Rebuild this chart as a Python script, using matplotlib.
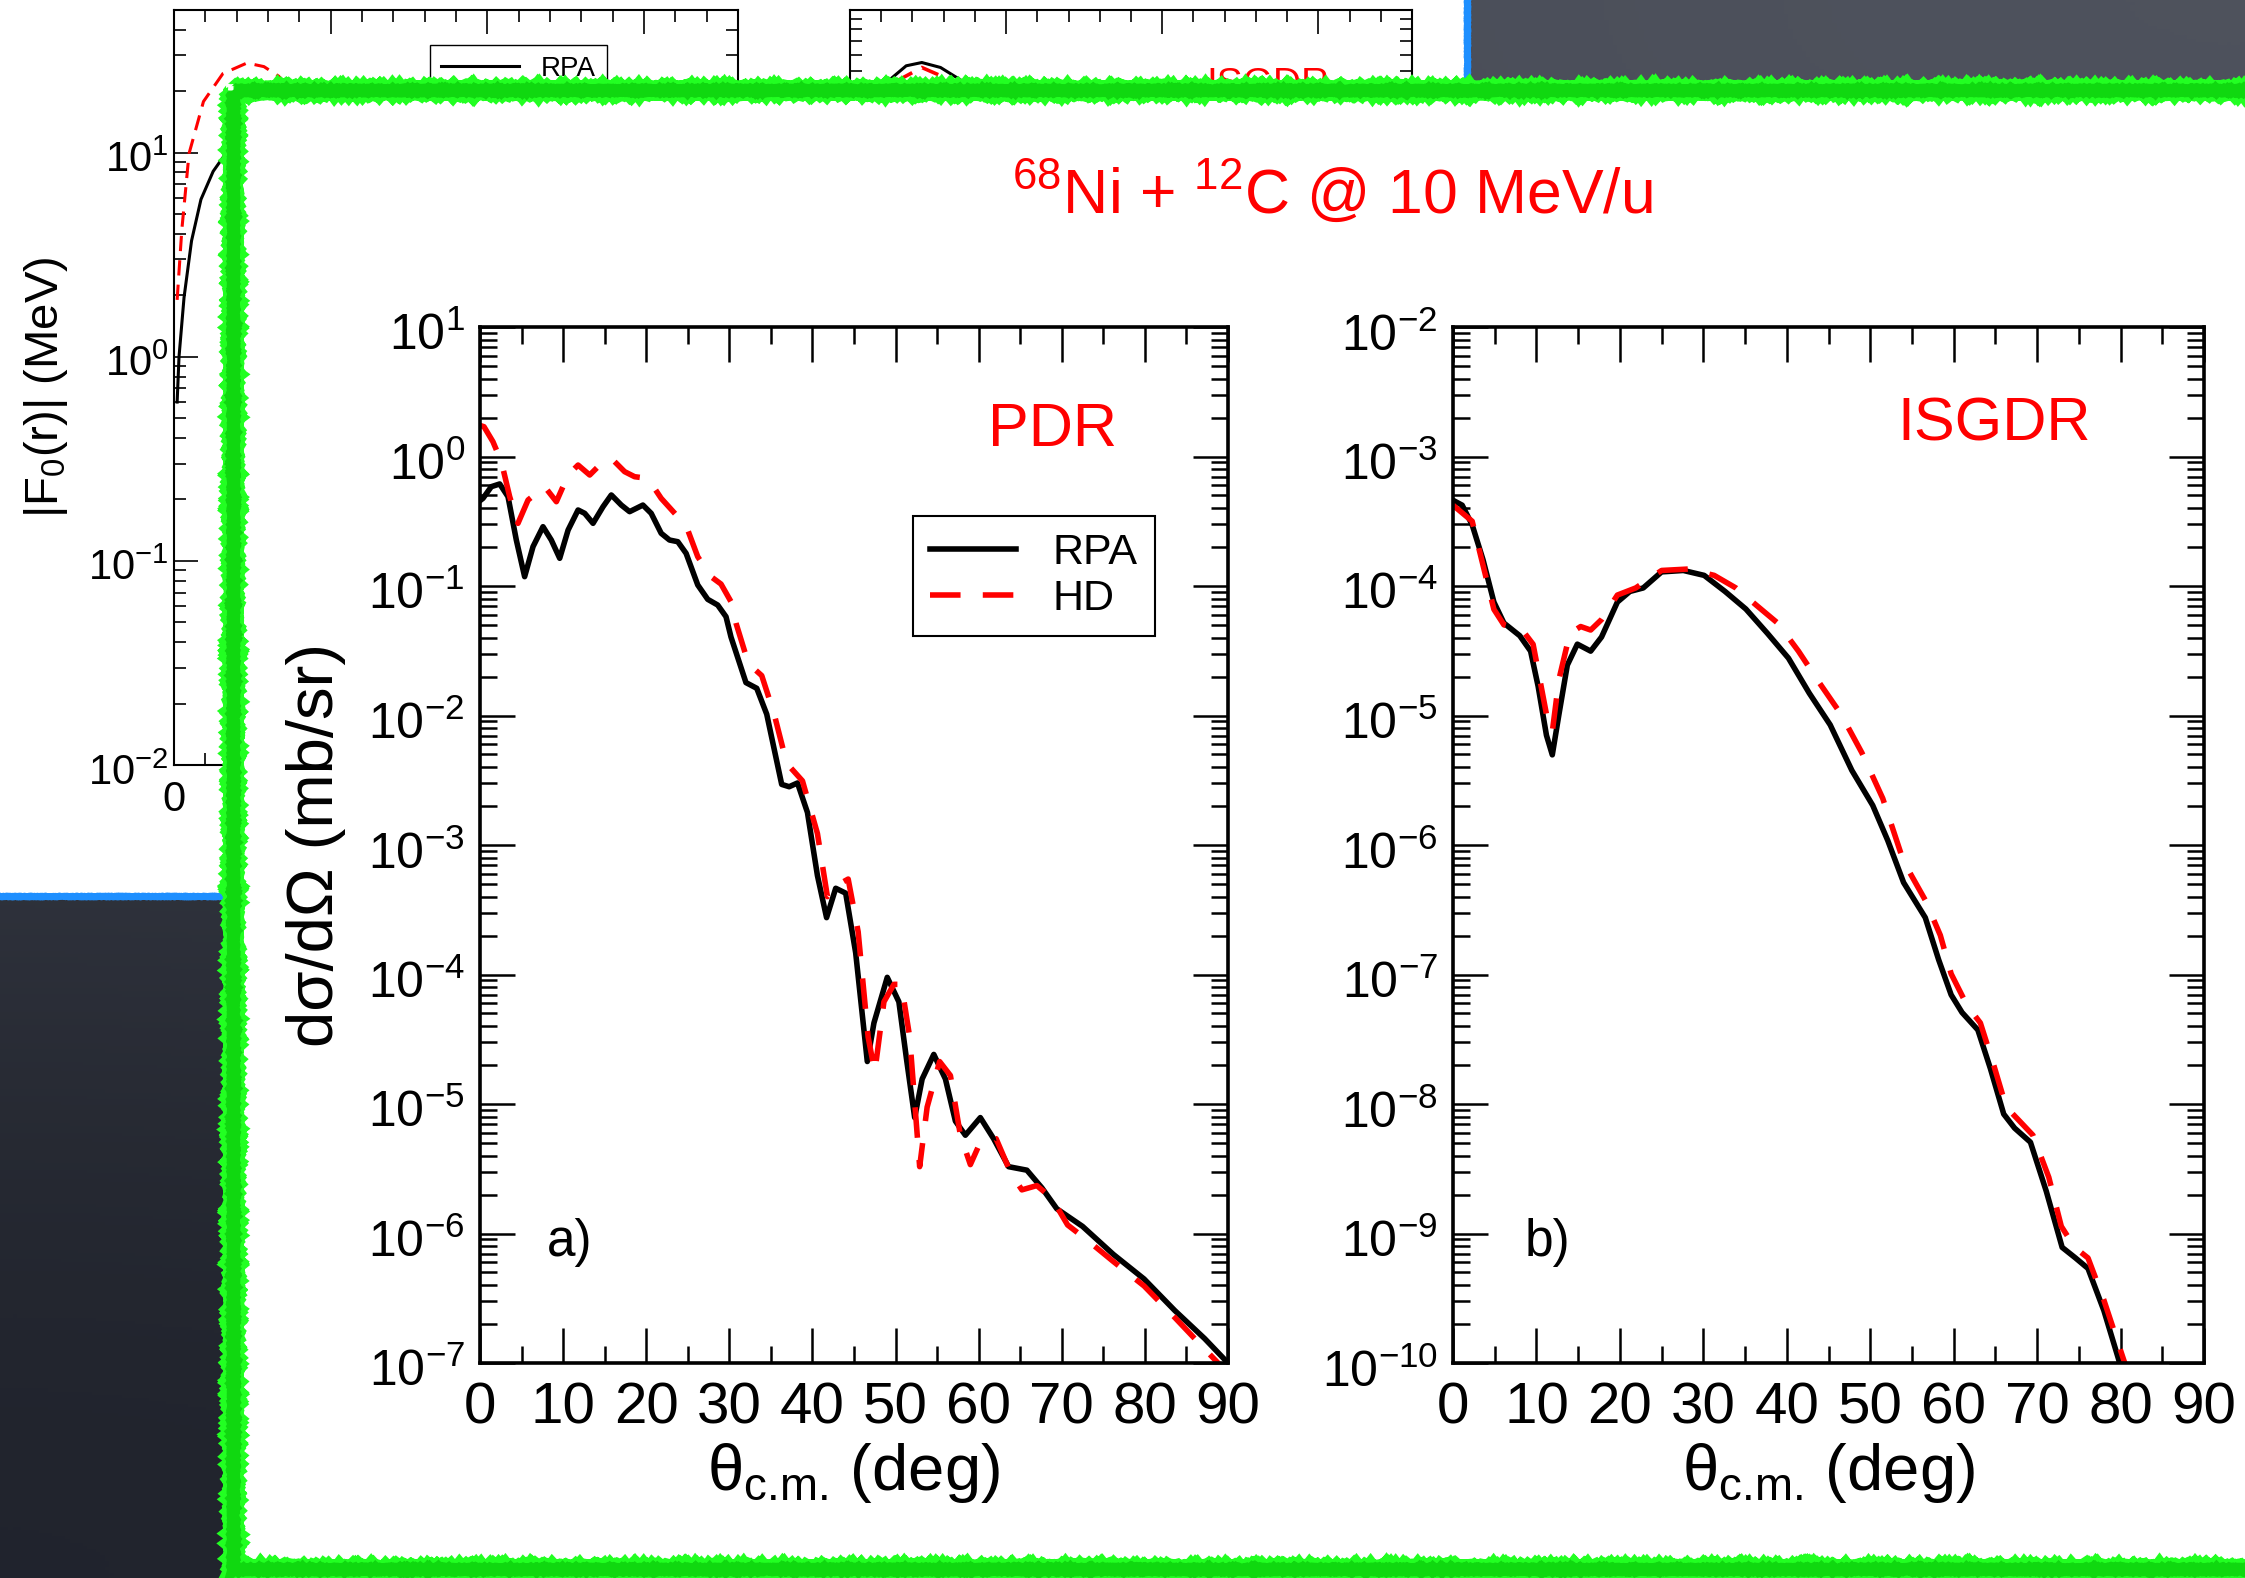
import numpy as np
import matplotlib.pyplot as plt
from matplotlib.patches import Rectangle
from matplotlib.colors import LinearSegmentedColormap
from matplotlib.ticker import MultipleLocator, LogLocator, NullFormatter
from matplotlib.transforms import ScaledTranslation

plt.rcParams['font.family'] = ['Liberation Sans', 'DejaVu Sans']
plt.rcParams['mathtext.fontset'] = 'custom'
plt.rcParams['mathtext.rm'] = 'Liberation Sans'
plt.rcParams['mathtext.it'] = 'Liberation Sans:italic'
plt.rcParams['mathtext.bf'] = 'Liberation Sans:bold'
plt.rcParams['mathtext.sf'] = 'Liberation Sans'
plt.rcParams['axes.unicode_minus'] = False
plt.rcParams['ytick.alignment'] = 'center'

# --- данные (log10 сечения, мб/ср) ---
# a) PDR
pdr_rpa_theta = [0, 0.36, 1.36, 2.37, 3.37, 4.37, 5.37, 6.38, 7.58, 8.58, 9.59, 10.6, 11.8,
                 12.6, 13.6, 14.8, 15.8, 17.0, 18.0, 19.6, 20.6, 21.8, 22.8, 23.8, 24.8,
                 26.2, 27.4, 28.6, 29.6, 30.2, 32.0, 33.3, 34.5, 36.3, 37.2,
                 38.2, 39.4, 40.6, 41.7, 42.8, 44.0, 45.2, 46.6, 47.4, 49.0, 50.4, 51.3,
                 52.3, 53.2, 54.6, 56.0, 57.2, 58.4, 60.2, 61.8, 63.6, 65.8, 67.6, 69.4,
                 72.5, 76.2, 79.9, 83.6, 87.2, 90]
pdr_rpa_log = [-0.341, -0.323, -0.233, -0.212, -0.310, -0.645, -0.928, -0.696, -0.542, -0.645,
               -0.786, -0.568, -0.413, -0.439, -0.516, -0.388, -0.297, -0.375, -0.426, -0.375,
               -0.439, -0.593, -0.645, -0.658, -0.748, -0.992, -1.103, -1.147, -1.237,
               -1.394, -1.746, -1.790, -1.990, -2.532, -2.55, -2.521, -2.749, -3.236, -3.561,
               -3.334, -3.372, -3.832, -4.672, -4.374, -4.022, -4.211, -4.645, -5.105, -4.807,
               -4.617, -4.807, -5.132, -5.241, -5.105, -5.268, -5.484, -5.511, -5.647, -5.809,
               -5.945, -6.161, -6.351, -6.595, -6.812, -7.0]
pdr_hd_theta = [0, 0.48, 1.56, 2.57, 3.57, 4.57, 5.78, 7.78, 9.19, 10.6, 11.8, 13.2, 14.6,
                15.8, 17.4, 18.6, 20.2, 21.8, 23.8, 25.0, 26.2, 27.8, 29.0, 30.2, 30.8,
                32.3, 33.9, 35.4, 36.9, 38.8, 40.6, 41.8,
                42.8, 44.3, 45.5, 46.7, 47.5, 48.6, 49.8, 50.7, 51.7, 52.9, 53.8, 55.3,
                56.6, 57.8, 59.0, 60.2, 62.1, 63.9, 65.2, 67.0, 68.8, 70.7, 73.1, 76.2,
                79.9, 83.6, 87.2, 90]
pdr_hd_log = [0.24, 0.230, 0.114, -0.040, -0.310, -0.516, -0.336, -0.233, -0.349, -0.143,
              -0.066, -0.143, -0.053, -0.014, -0.117, -0.156, -0.169, -0.323, -0.465, -0.568,
              -0.774, -0.928, -0.985, -1.121, -1.286, -1.600,
              -1.692, -1.990, -2.369, -2.505, -2.911, -3.399, -3.317, -3.263, -3.670, -4.482,
              -4.753, -4.211, -4.076, -4.076, -4.482, -5.484, -5.024, -4.672, -4.78, -5.241,
              -5.468, -5.295, -5.268, -5.538, -5.663, -5.630, -5.727, -5.934, -6.053, -6.216,
              -6.405, -6.649, -6.893, -7.08]

# b) ISGDR
isg_rpa_theta = [0, 1.1, 2.3, 3.6, 4.9, 6.1, 8.0, 9.3, 10.2, 11.2, 11.9, 12.7, 13.7, 14.9,
                 16.5, 17.8, 19.7, 21.2, 22.8, 25.0, 27.6, 30.1, 32.6, 35.1, 37.7, 40.2,
                 42.7, 45.2, 47.8, 50.3, 52.1, 54.0, 56.6, 58.2, 59.7, 61.0, 62.9, 64.4,
                 66.0, 67.3, 69.2, 71.1, 73.0, 74.6, 76.1, 78.0, 79.9, 81.0]
isg_rpa_log = [-3.338, -3.376, -3.528, -3.798, -4.124, -4.286, -4.384, -4.503, -4.774, -5.153,
               -5.304, -4.99, -4.611, -4.449, -4.503, -4.394, -4.124, -4.042, -4.015, -3.891,
               -3.880, -3.918, -4.042, -4.178, -4.367, -4.557, -4.828, -5.072, -5.424, -5.694,
               -5.965, -6.290, -6.561, -6.886, -7.157, -7.293, -7.428, -7.726, -8.078, -8.186,
               -8.295, -8.674, -9.107, -9.189, -9.270, -9.595, -10.0, -10.3]
isg_hd_theta = [0, 2.3, 4.9, 6.1, 8.3, 9.6, 11.2, 11.9, 12.7, 14.0, 15.3, 16.5, 17.8, 19.7,
                21.9, 25.0, 28.2, 31.3, 33.9, 36.4, 38.9, 41.4, 43.9, 46.5, 49.0, 51.5,
                54.0, 56.6, 58.4, 59.7, 61.6, 63.2, 64.8, 66.3, 67.9, 69.5, 71.4, 72.9,
                74.5, 76.1, 78.0, 80.5, 81.8]
isg_hd_log = [-3.376, -3.50, -4.18, -4.30, -4.34, -4.45, -4.99, -5.125, -4.72, -4.367,
              -4.313, -4.34, -4.259, -4.07, -4.015, -3.880, -3.869, -3.918, -4.015, -4.151,
              -4.286, -4.503, -4.747, -4.99, -5.288, -5.640, -6.128, -6.426, -6.697, -6.995,
              -7.238, -7.374, -7.699, -8.024, -8.132, -8.241, -8.566, -8.945, -9.107, -9.189,
              -9.514, -10.0, -10.3]

# фоновый слайд: |F0(r)| и ISGDR (видны только края)
bg1_r_rpa = [0.1, 0.16, 0.32, 0.56, 0.86, 1.25, 1.63, 2.2]
bg1_f_rpa = [0.6, 1.0, 1.95, 3.7, 5.9, 8.1, 9.8, 11.0]
bg1_r_hd = [0.1, 0.25, 0.48, 0.94, 1.56, 2.33, 2.87, 3.34, 3.9]
bg1_f_hd = [1.9, 4.2, 9.9, 17.8, 24.4, 27.5, 26.4, 23.7, 19.0]
bg2_r_rpa = [0.6, 1.25, 1.8, 2.3, 2.9, 3.56, 4.2]
bg2_f_rpa = [2.5, 4.5, 5.3, 5.5, 5.2, 4.5, 2.5]
bg2_r_hd = [0.6, 1.54, 2.3, 3.24, 4.2]
bg2_f_hd = [2.5, 4.5, 5.2, 4.5, 2.5]

W, H = 2245, 1578


def box(x0, y0, x1, y1):
    # пиксели (от верхнего левого угла) -> доли фигуры
    return [x0 / W, 1 - y1 / H, (x1 - x0) / W, (y1 - y0) / H]


def log_ticks(ax, major_len, minor_len, width):
    ax.yaxis.set_major_locator(LogLocator(base=10, numticks=30))
    ax.yaxis.set_minor_locator(LogLocator(base=10, subs=np.arange(2, 10), numticks=30))
    ax.yaxis.set_minor_formatter(NullFormatter())
    ax.tick_params(which='both', direction='in', top=True, right=True)
    ax.tick_params(which='major', length=major_len, width=width)
    ax.tick_params(which='minor', length=minor_len, width=width)


def shift_ylabels(ax, dy):
    # подписи 10^n чуть ниже засечки, как в xmgrace
    off = ScaledTranslation(0, -dy / 72, fig.dpi_scale_trans)
    for t in ax.yaxis.get_major_ticks():
        t.label1.set_transform(t.label1.get_transform() + off)


fig = plt.figure(figsize=(W / 100, H / 100), dpi=100)

# доска
bg = fig.add_axes([0, 0, 1, 1], zorder=0)
bg.set_xlim(0, W)
bg.set_ylim(H, 0)
bg.axis('off')
chalk = LinearSegmentedColormap.from_list('chalk', ['#1f222b', '#50545f'])
bg.imshow([[0.75, 1.0], [0.0, 0.25]], extent=(0, W, H, 0), cmap=chalk,
          interpolation='bicubic', aspect='auto', vmin=0, vmax=1)
bg.add_patch(Rectangle((0, 0), 1467, 896, fc='white', ec='none'))
for xs, ys in [([1467, 1467], [0, 896]), ([0, 1467], [896, 896])]:
    ln, = bg.plot(xs, ys, color='#1e8fff', lw=5)
    ln.set_sketch_params(0.5, 3, 2)

# фоновая панель 1
b1 = fig.add_axes(box(174, 10, 738, 765), zorder=1)
b1.set_yscale('log')
b1.plot(bg1_r_rpa, bg1_f_rpa, color='black', lw=2.2, label='RPA')
b1.plot(bg1_r_hd, bg1_f_hd, color='red', lw=2.2, dashes=(5, 3), label='HD')
b1.set_xlim(0, 18)
b1.set_ylim(1e-2, 50)
b1.set_xticks([0, 5, 10, 15], ['0', '', '', ''])
b1.xaxis.set_minor_locator(MultipleLocator(1))
log_ticks(b1, 17, 8.5, 1.2)
b1.tick_params(labelsize=30, pad=4)
b1.tick_params(axis='x', pad=11)
b1.set_ylabel('|F$_0$(r)| (MeV)', fontsize=34, labelpad=13)
for s in b1.spines.values():
    s.set_linewidth(1.5)
b1.legend(loc='upper left', bbox_to_anchor=(0.454, 0.954), borderaxespad=0, fontsize=20,
          fancybox=False, edgecolor='black', framealpha=1, handlelength=2.8)
shift_ylabels(b1, 6)

# фоновая панель 2
b2 = fig.add_axes(box(850, 9.5, 1412, 765), zorder=1)
b2.set_yscale('log')
b2.plot(bg2_r_hd, bg2_f_hd, color='red', lw=2.6, dashes=(5, 3))
b2.plot(bg2_r_rpa, bg2_f_rpa, color='black', lw=2.2)
b2.set_xlim(0, 18)
b2.set_ylim(10 ** -2.7, 10)
b2.xaxis.set_major_locator(MultipleLocator(5))
b2.xaxis.set_minor_locator(MultipleLocator(1))
log_ticks(b2, 17, 8.5, 1.2)
b2.tick_params(labelleft=False, labelbottom=False)
for s in b2.spines.values():
    s.set_linewidth(1.5)
b2.text(0.744, 0.887, 'ISGDR', transform=b2.transAxes, color='red', fontsize=28,
        ha='center', va='baseline')

# зеленая рамка
ov = fig.add_axes([0, 0, 1, 1], zorder=2)
ov.set_xlim(0, W)
ov.set_ylim(H, 0)
ov.axis('off')
ov.add_patch(Rectangle((233, 90), 2400, 1479, fc='white', ec='none'))
for col, lw, sk in [('#19f019', 12, None), ('#22ff22', 14, (0.7, 2, 2)),
                    ('#10d810', 9, (0.6, 3, 3))]:
    fr = Rectangle((233, 90), 2400, 1479, fill=False, ec=col, lw=lw)
    if sk:
        fr.set_sketch_params(*sk)
    ov.add_patch(fr)

# основные панели
ax1 = fig.add_axes(box(480, 327, 1228, 1363), zorder=3)
ax2 = fig.add_axes(box(1453, 327, 2204, 1363), zorder=3)

line_kw = dict(lw=4, solid_joinstyle='round', dash_joinstyle='round')
ax1.plot(pdr_rpa_theta, 10 ** np.array(pdr_rpa_log), color='black', label='RPA', **line_kw)
ax1.plot(pdr_hd_theta, 10 ** np.array(pdr_hd_log), color='red', dashes=(5.5, 4), label='HD',
         **line_kw)
ax2.plot(isg_rpa_theta, 10 ** np.array(isg_rpa_log), color='black', **line_kw)
ax2.plot(isg_hd_theta, 10 ** np.array(isg_hd_log), color='red', dashes=(5.5, 4), **line_kw)

for ax, lo, hi in [(ax1, 1e-7, 1e1), (ax2, 1e-10, 1e-2)]:
    ax.set_yscale('log')
    ax.set_xlim(0, 90)
    ax.set_ylim(lo, hi)
    ax.xaxis.set_major_locator(MultipleLocator(10))
    ax.xaxis.set_minor_locator(MultipleLocator(5))
    log_ticks(ax, 25, 12.5, 1.8)
    ax.tick_params(axis='x', labelsize=42, pad=13)
    ax.tick_params(axis='y', labelsize=36, pad=11)
    for s in ax.spines.values():
        s.set_linewidth(2.6)
    ax.set_xlabel(r'θ$_\text{c.m.}$ (deg)', fontsize=47, labelpad=4)
    shift_ylabels(ax, 7)

ax1.set_ylabel('dσ/dΩ (mb/sr)', fontsize=47, labelpad=16)

leg = ax1.legend(loc='upper left', bbox_to_anchor=(0.579, 0.818), borderaxespad=0, fontsize=31,
                 fancybox=False, edgecolor='black', framealpha=1, handlelength=2.0,
                 handletextpad=0.84, borderpad=0.4, labelspacing=0.15)
leg.get_frame().set_linewidth(1.5)

ax1.text(0.765, 0.90, 'PDR', transform=ax1.transAxes, color='red', fontsize=44,
         ha='center', va='center')
ax2.text(0.72, 0.905, 'ISGDR', transform=ax2.transAxes, color='red', fontsize=44,
         ha='center', va='center')
ax1.text(0.09, 0.116, 'a)', transform=ax1.transAxes, fontsize=37, ha='left', va='center')
ax2.text(0.096, 0.116, 'b)', transform=ax2.transAxes, fontsize=37, ha='left', va='center')

fig.text(1332 / W, 1 - 213 / H, r'$^{68}$Ni + $^{12}$C @ 10 MeV/u', color='red', fontsize=45,
         ha='center', va='baseline', zorder=5)

fig.savefig('out.png', dpi=100)
